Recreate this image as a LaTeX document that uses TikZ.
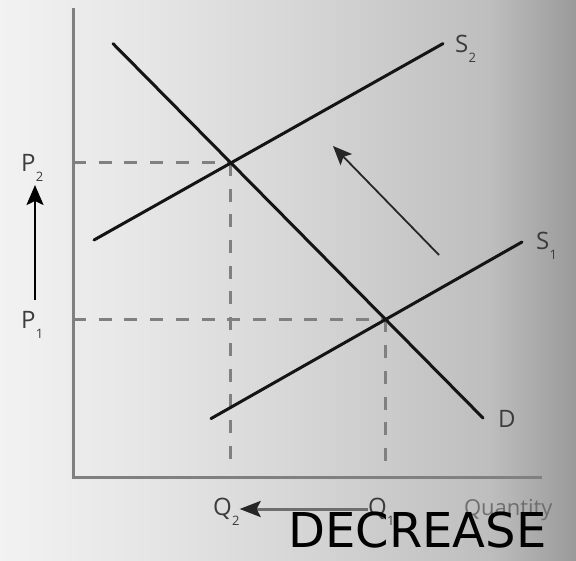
\documentclass[tikz,border=0pt]{standalone}
\usepackage{fontspec}
\setmainfont{Open Sans}
\newfontfamily\bigfont{DejaVu Sans}
\usetikzlibrary{arrows.meta}
\definecolor{bgA}{HTML}{F2F2F2}
\definecolor{bgB}{HTML}{E6E6E6}
\definecolor{bgC}{HTML}{D4D4D4}
\definecolor{bgD}{HTML}{BEBEBE}
\definecolor{bgE}{HTML}{9A9A9A}
\definecolor{axisgray}{HTML}{808080}
\definecolor{labgray}{HTML}{3C3C3C}
\definecolor{qgray}{HTML}{6E6E6E}
\pgfdeclarehorizontalshading{bgshade}{100bp}{color(0bp)=(bgA); color(25bp)=(bgA); color(37.5bp)=(bgB); color(52.5bp)=(bgC); color(67.5bp)=(bgD); color(75bp)=(bgE); color(100bp)=(bgE)}
\newcommand\lbl[2]{#1\kern0.5pt\raisebox{-10pt}{\fontsize{13}{13}\selectfont #2}}
\tikzset{
  curve/.style={line width=3pt, color=black!92, line cap=round},
  axisline/.style={line width=3pt, color=axisgray},
  guide/.style={line width=3pt, color=axisgray, dash pattern=on 13pt off 12.7pt},
  lab/.style={anchor=base west, inner sep=0pt, outer sep=0pt, text=labgray, font=\fontsize{24}{24}\selectfont},
  shiftarrow/.style={line width=1.8pt, color=black!85, -{Stealth[length=19pt,width=16pt,inset=4pt]}},
  parrow/.style={line width=2pt, color=black, -{Stealth[length=20pt,width=17pt,inset=4pt]}},
  qarrow/.style={line width=3pt, color=qgray, -{Stealth[length=21pt,width=16pt,inset=4pt,color=black!85]}},
}
\begin{document}
\begin{tikzpicture}[x=1pt,y=-1pt]
\shade[shading=bgshade] (0,0) rectangle (576,560);
\useasboundingbox (0,0) rectangle (576,560);

% axes
\coordinate (ytop) at (73,8);
\coordinate (O) at (73,477);
\coordinate (xend) at (542,477);
\coordinate (qbot) at (0,462);

% curves end points
\coordinate (D1) at (113,43.6);
\coordinate (D2) at (483,418);
\coordinate (S2a) at (94,240);
\coordinate (S2b) at (443,43.6);
\coordinate (S1a) at (211,418.6);
\coordinate (S1b) at (522,242);
\coordinate (E2) at (intersection of D1--D2 and S2a--S2b);
\coordinate (E1) at (intersection of D1--D2 and S1a--S1b);

% guides
\draw[guide] (O |- E2) -- (E2);
\draw[guide] (E2) -- (E2 |- qbot);
\draw[guide] (O |- E1) -- (E1);
\draw[guide] (E1) -- (E1 |- qbot);

\draw[axisline] (ytop) -- (O) -- (xend);

\draw[curve] (D1) -- (D2);
\draw[curve] (S2a) -- (S2b);
\draw[curve] (S1a) -- (S1b);

% shift arrow
\coordinate (mA) at (439,255);
\coordinate (mB) at (333,146);
\draw[shiftarrow] (mA) -- (mB);

% labels
\node[lab] (s2) at (455,52) {\lbl{S}{2}};
\node[lab] (s1) at (536,249) {\lbl{S}{1}};
\node[lab] (d) at (498,427) {D};
\node[lab] (p2) at (21,171) {\lbl{P}{2}};
\node[lab] (p1) at (21,328) {\lbl{P}{1}};
\node[lab] (q2) at (213,515) {\lbl{Q}{2}};
\node[lab] (q1) at (368,515) {\lbl{Q}{1}};
\node[lab, text=qgray, font=\fontsize{22}{22}\selectfont] (qty) at (464,515) {Quantity};

% price arrow
\coordinate (pa) at (35,300);
\coordinate (pb) at (35,185);
\draw[parrow] (pa) -- (pb);

% quantity arrow
\draw[qarrow] (q1.west |- 0,509) -- (q2.east |- 0,509);

\node[anchor=base west, inner sep=0pt, font=\bigfont\fontsize{48}{48}\selectfont, text=black] (dec) at (288,547) {DECREASE};
\end{tikzpicture}
\end{document}
